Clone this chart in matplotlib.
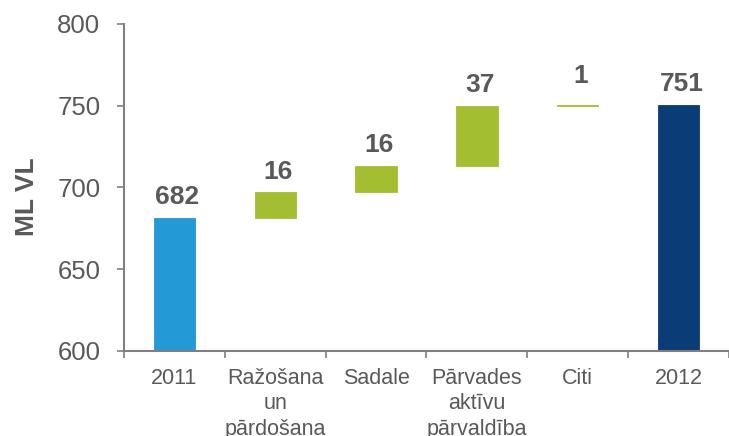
import numpy as np
import matplotlib.pyplot as plt

plt.rcParams['font.family'] = ['Liberation Sans', 'DejaVu Sans']

categories = ['2011', 'Ražošana\nun\npārdošana', 'Sadale',
              'Pārvades\naktīvu\npārvaldība', 'Citi', '2012']
start_value = 681.6
changes = [15.6, 16.2, 36.6, 0.6]
end_value = 750.6
labels = ['682', '16', '16', '37', '1', '751']

grey = '#595959'
axis_grey = '#7f7f7f'
c_start = '#239ad6'
c_change = '#a3be31'
c_end = '#0a3c75'

# build waterfall pieces
bottoms = [0]
heights = [start_value]
level = start_value
for d in changes:
    bottoms.append(level)
    heights.append(d)
    level += d
bottoms.append(0)
heights.append(end_value)
colors = [c_start] + [c_change] * len(changes) + [c_end]

fig = plt.figure(figsize=(7.29, 4.36), dpi=100)
ax = fig.add_axes([0.170, 0.195, 0.830, 0.750])

x = np.arange(len(categories))
ax.bar(x, heights, bottom=bottoms, width=0.41, color=colors,
       edgecolor=colors, linewidth=0.6)

for i in range(len(categories)):
    top = bottoms[i] + heights[i]
    off = 12 if labels[i] == '1' else 6
    ax.annotate(labels[i], (x[i], top), xytext=(2, off),
                textcoords='offset points', ha='center', va='bottom',
                fontsize=19, fontweight='bold', color=grey)

ax.set_ylim(600, 800)
ax.set_xlim(-0.5, len(categories) - 0.5)
ax.set_yticks(np.arange(600, 801, 50))
ax.set_xticks(x)
ax.set_xticklabels(categories, linespacing=1.3)
ax.set_xticks(np.arange(-0.5, len(categories), 1), minor=True)

ax.tick_params(axis='y', labelsize=18.5, colors=grey, length=5,
               width=1.2, pad=12, color=axis_grey)
ax.tick_params(axis='x', which='major', labelsize=15.5, colors=grey,
               length=0, pad=12)
ax.tick_params(axis='x', which='minor', length=5, width=1.2,
               color=axis_grey)

for s in ['top', 'right']:
    ax.spines[s].set_visible(False)
for s in ['left', 'bottom']:
    ax.spines[s].set_color(axis_grey)
    ax.spines[s].set_linewidth(1.5)

ax.set_ylabel('ML VL', fontsize=19, fontweight='bold', color=grey)
ax.yaxis.set_label_coords(-0.141, 0.471)

fig.savefig('out.png', dpi=100)
